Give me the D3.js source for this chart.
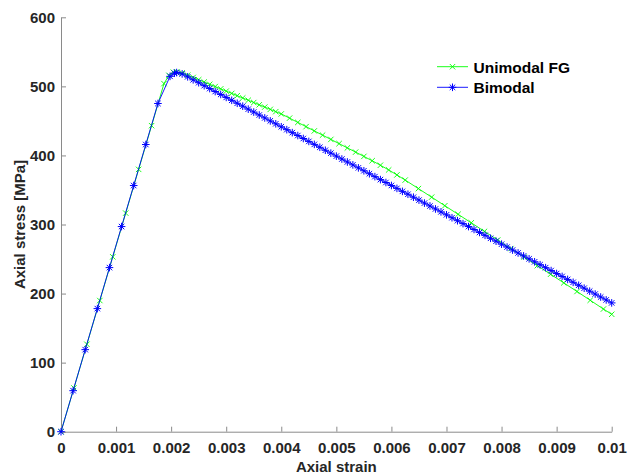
<!DOCTYPE html>
<html><head><meta charset="utf-8">
<script src="https://cdn.jsdelivr.net/npm/d3@7/dist/d3.min.js"></script>
<style>
html,body{margin:0;padding:0;background:#fff;}
text{font-family:"Liberation Sans",Arial,Helvetica,sans-serif;font-weight:bold;}
</style></head>
<body><svg id="c" width="627" height="476"></svg>
<script>
// ---- data ----
const xTicks = [0,0.001,0.002,0.003,0.004,0.005,0.006,0.007,0.008,0.009,0.01];
const xTickLabels = ["0","0.001","0.002","0.003","0.004","0.005","0.006","0.007","0.008","0.009","0.01"];
const yTicks = [0,100,200,300,400,500,600];
const yTickLabels = ["0","100","200","300","400","500","600"];
const seriesNames = ["Unimodal FG","Bimodal"];

const uniStrain = [0,0.000235,0.00047,0.000705,0.00094,0.001175,0.00141,0.001645,0.00187,0.00196,0.00204,
  0.0021,0.0022,0.0023,0.0024,0.0025,0.0026,0.0027,0.0028,0.0029,0.0030,0.0031,0.0032,0.0033,0.0034,0.0035,0.0036,0.0037,0.0038,0.0039,
  0.0040,0.00415,0.0043,0.00445,0.0046,0.00475,0.0049,0.00505,0.0052,0.00535,0.0055,0.00565,0.0058,0.00595,0.0061,
  0.00625,0.00649,0.00673,0.00697,0.00721,0.00745,0.00769,0.00793,0.00817,0.00841,0.00865,0.00889,0.00913,0.00937,0.00961,0.00985,0.01];
const uniStress = [0,63.3,126.6,189.9,253.2,316.5,379.8,443.1,504,516,520.5,
  521,519.5,516.2,512.9,509.6,506.3,503.0,499.7,496.4,493.1,489.8,486.5,483.2,479.9,476.6,473.3,470.0,466.7,463.4,
  460.1,454.0,447.8,441.7,435.5,429.4,423.2,417.1,410.9,404.8,398.6,392.3,385.8,379.0,371.8,
  364.3,352.0,339.6,327.2,314.8,302.4,290.0,277.6,265.2,252.8,240.4,228.0,215.5,203.0,190.3,177.6,170.0];

const biStrain = [0,0.00022,0.00044,0.00066,0.00088,0.0011,0.00132,0.00154,0.00176,0.00198,0.00206,
  0.0021,0.0022,0.0023,0.0024,0.0025,0.0026,0.0027,0.0028,0.0029,0.0030,0.0031,0.0032,0.0033,0.0034,0.0035,0.0036,0.0037,0.0038,0.0039,
  0.0040,0.0041,0.0042,0.0043,0.0044,0.0045,0.0046,0.0047,0.0048,0.0049,0.0050,0.0051,0.0052,0.0053,0.0054,0.0055,0.0056,0.0057,0.0058,0.0059,
  0.0060,0.0061,0.0062,0.0063,0.0064,0.0065,0.0066,0.0067,0.0068,0.0069,0.0070,0.0071,0.0072,0.0073,0.0074,0.0075,0.0076,0.0077,0.0078,0.0079,
  0.0080,0.0081,0.0082,0.0083,0.0084,0.0085,0.0086,0.0087,0.0088,0.0089,0.0090,0.0091,0.0092,0.0093,0.0094,0.0095,0.0096,0.0097,0.0098,0.0099,0.0100];
const biStress = [0,59.4,118.8,178.2,237.6,297.0,356.4,415.8,475.2,514.5,519,
  520,518.0,513.8,509.5,505.3,501.0,496.8,492.5,488.3,484.0,479.8,475.5,471.3,467.0,462.8,458.5,454.3,450.0,445.8,
  441.5,437.3,433.0,428.8,424.5,420.3,416.0,411.8,407.5,403.3,399.0,394.8,390.5,386.3,382.0,377.8,373.5,369.3,365.0,360.8,
  356.5,352.3,348.0,343.8,339.5,335.3,331.0,326.8,322.5,318.3,314.0,309.8,305.5,301.3,297.0,292.8,288.5,284.3,280.0,275.8,
  271.5,267.3,263.0,258.8,254.5,250.3,246.0,241.8,237.5,233.3,229.0,224.8,220.5,216.3,212.0,207.8,203.5,199.3,195.0,190.8,186.5];

// ---- layout ----
const W = 627, H = 476;
const m = {left:61, right:15.3, top:17.3, bottom:44.3};
const svg = d3.select("#c");
const x = d3.scaleLinear().domain([0,0.01]).range([m.left, W - m.right]);
const y = d3.scaleLinear().domain([0,600]).range([H - m.bottom, m.top]);
const axisCol = "#8a8a8a", textCol = "#262626";

const gx = svg.append("g").attr("transform", `translate(0,${H - m.bottom})`)
  .call(d3.axisBottom(x).tickValues(xTicks).tickFormat((d,i)=>xTickLabels[i]).tickSizeInner(-5).tickSizeOuter(0).tickPadding(11));
const gy = svg.append("g").attr("transform", `translate(${m.left},0)`)
  .call(d3.axisLeft(y).tickValues(yTicks).tickFormat((d,i)=>yTickLabels[i]).tickSizeInner(-5).tickSizeOuter(0).tickPadding(6));
[gx,gy].forEach(g=>{
  g.select(".domain").attr("stroke", axisCol);
  g.selectAll(".tick line").attr("stroke", axisCol);
  g.selectAll(".tick text").attr("fill", textCol).style("font-size","15px").style("font-family",'"Liberation Sans",Arial,sans-serif').style("font-weight","bold");
});

svg.append("text").attr("x", (m.left + W - m.right)/2).attr("y", 471.5)
  .attr("text-anchor","middle").attr("fill",textCol).style("font-size","15px").text("Axial strain");
svg.append("text").attr("transform", `translate(24.5,${(m.top + H - m.bottom)/2}) rotate(-90)`)
  .attr("text-anchor","middle").attr("fill",textCol).style("font-size","15px").text("Axial stress [MPa]");

// ---- markers ----
const crossPath = r => `M${-r},${-r}L${r},${r}M${-r},${r}L${r},${-r}`;
const starPath = r => { const k = r*0.72; return `M${-r},0H${r}M0,${-r}V${r}M${-k},${-k}L${k},${k}M${-k},${k}L${k},${-k}`; };

const series = [
  {name: seriesNames[0], xs: uniStrain, ys: uniStress, color: "#00ff00", marker: crossPath(2.7), mw: 0.9},
  {name: seriesNames[1], xs: biStrain, ys: biStress, color: "#0000ff", marker: starPath(3.8), mw: 1.0}
];
const line = d3.line().x(d=>x(d[0])).y(d=>y(d[1]));
series.forEach(s=>{
  const pts = s.xs.map((v,i)=>[v, s.ys[i]]);
  const g = svg.append("g");
  g.append("path").datum(pts).attr("d", line).attr("fill","none").attr("stroke", s.color).attr("stroke-width", 0.9);
  g.selectAll("path.mk").data(pts).enter().append("path").attr("class","mk")
    .attr("transform", d=>`translate(${x(d[0])},${y(d[1])})`)
    .attr("d", s.marker).attr("fill","none").attr("stroke", s.color).attr("stroke-width", s.mw);
});

// ---- legend ----
const leg = svg.append("g");
const legY = [66.7, 87.3];
series.forEach((s,i)=>{
  leg.append("line").attr("x1",437).attr("x2",468).attr("y1",legY[i]).attr("y2",legY[i]).attr("stroke",s.color).attr("stroke-width",0.9);
  leg.append("path").attr("transform",`translate(452.5,${legY[i]})`).attr("d",s.marker).attr("fill","none").attr("stroke",s.color).attr("stroke-width",s.mw);
  leg.append("text").attr("x",473.5).attr("y",legY[i]+6).attr("fill","#000").style("font-size","15.5px").text(s.name);
});
</script></body></html>
